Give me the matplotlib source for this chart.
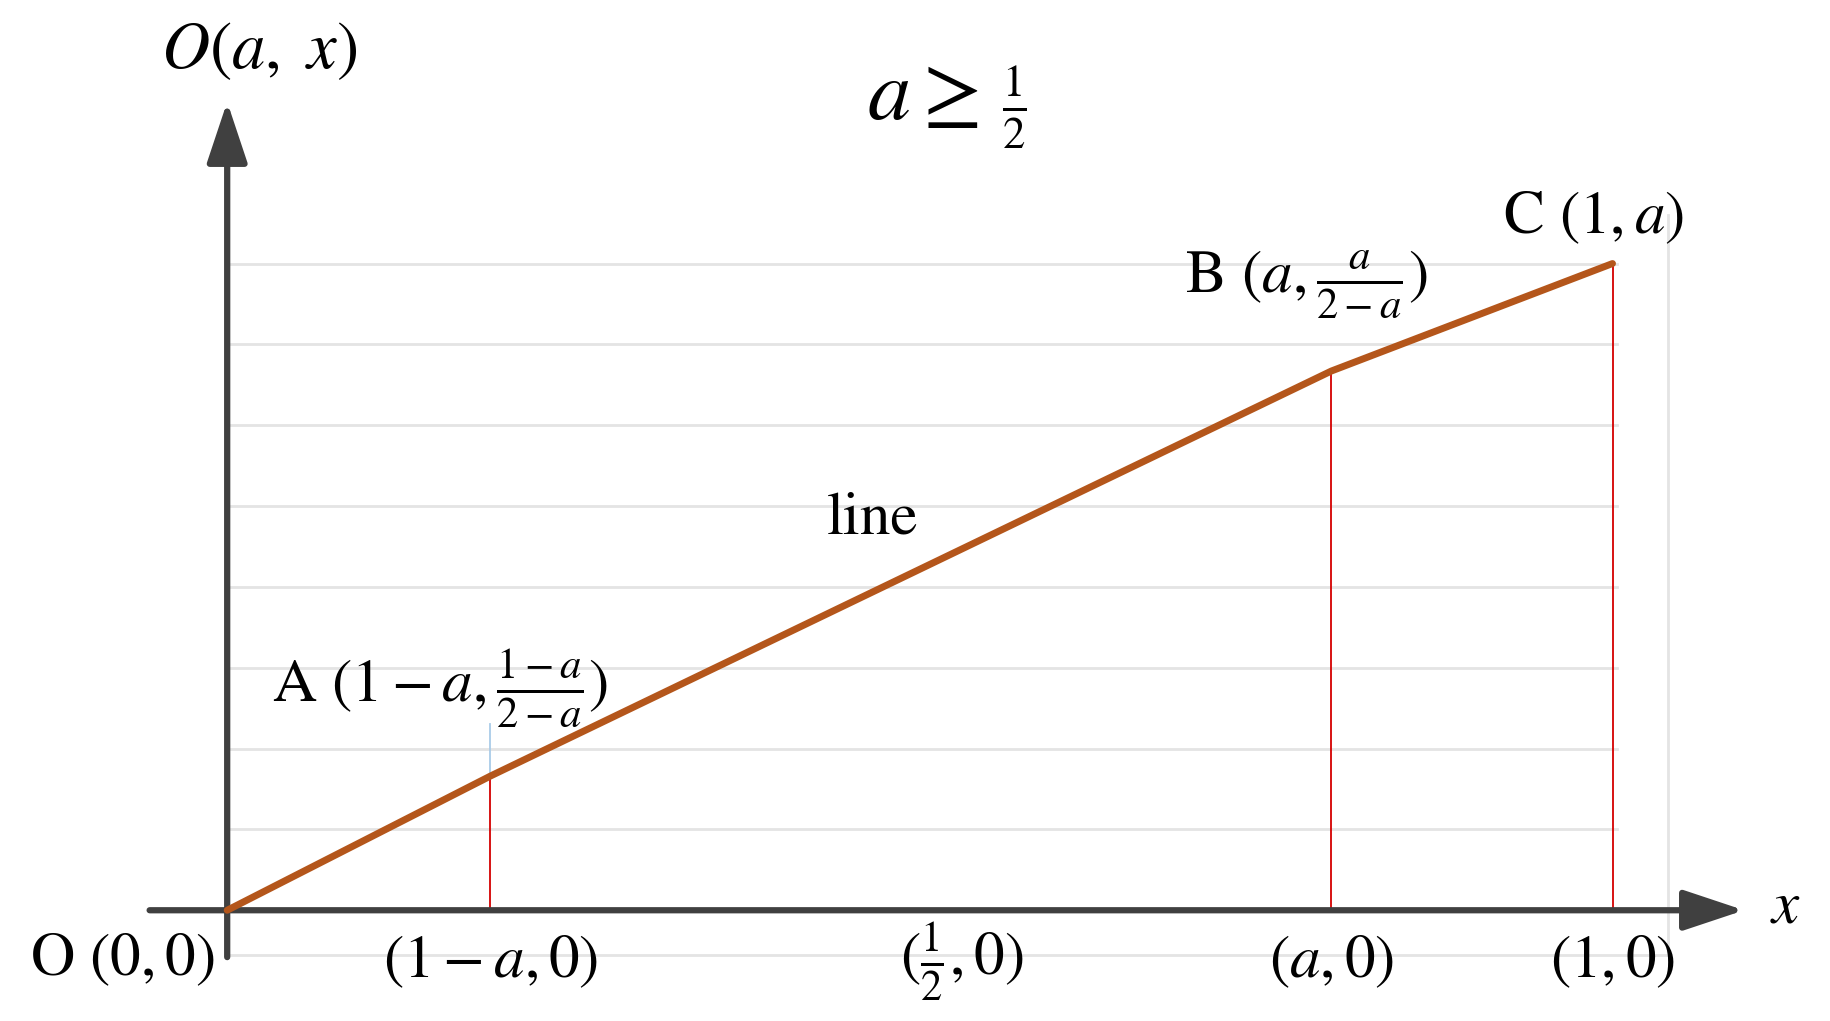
import numpy as np
import matplotlib.pyplot as plt

plt.rcParams['mathtext.fontset'] = 'stix'
plt.rcParams['font.family'] = ['STIXGeneral', 'Liberation Serif', 'DejaVu Serif']

# points of the piecewise line: O, A, B, C  (a ~ 0.8)
pt_names = ['O', 'A', 'B', 'C']
pt_x = [0.0, 0.19, 0.797, 1.0]
pt_y = [0.0, 0.166, 0.667, 0.8]

# horizontal guide lines
grid_y = [0.1, 0.2, 0.3, 0.4, 0.5, 0.6, 0.7, 0.8]
grid_below = -0.055
grid_right = 1.04

# labels
pt_labels = [r'O $(0,0)$', r'A $(1-a,\frac{1-a}{2-a})$',
             r'B $(a,\frac{a}{2-a})$', r'C $(1,a)$']
tick_x = [0.19, 0.53, 0.797, 1.0]
tick_labels = [r'$(1-a,0)$', r'$(\frac{1}{2},0)$', r'$(a,0)$', r'$(1,0)$']

fig = plt.figure(figsize=(18.3, 10.21), dpi=100)
ax = fig.add_axes([0, 0, 1, 1])
ax.set_xlim(-0.164, 1.157)
ax.set_ylim(-0.137, 1.126)
ax.axis('off')

gcol = '#e4e4e4'
for g in grid_y:
    ax.plot([0, 1.003], [g, g], color=gcol, lw=2, zorder=1)
ax.plot([0, grid_right], [grid_below, grid_below], color=gcol, lw=2, zorder=1)
ax.plot([grid_right, grid_right], [grid_below, 0.86], color=gcol, lw=2, zorder=1)

# axes with arrows
acol = '#404040'
ax.annotate('', xy=(1.095, 0), xytext=(-0.056, 0),
            arrowprops=dict(arrowstyle='-|>,head_length=1.5,head_width=0.5',
                            mutation_scale=25, lw=4.5, color=acol,
                            shrinkA=0, shrinkB=0), zorder=3)
ax.annotate('', xy=(0, 1.0), xytext=(0, -0.058),
            arrowprops=dict(arrowstyle='-|>,head_length=1.5,head_width=0.5',
                            mutation_scale=25, lw=4.5, color=acol,
                            shrinkA=0, shrinkB=0), zorder=3)

# red drop lines
for px, py in zip(pt_x[1:], pt_y[1:]):
    ax.plot([px, px], [0, py], color='#d40000', lw=1.3, zorder=2)
ax.plot([pt_x[1], pt_x[1]], [pt_y[1], 0.231], color='#a9cbe8', lw=1.3, zorder=2)

# main line
ax.plot(pt_x, pt_y, color='#b4561b', lw=5, solid_capstyle='round', zorder=4)

fs = 44
ax.text(0.023, 1.061, r'$O(a,\ x)$', fontsize=48, ha='center', va='center')
ax.text(0.502, 1.004, r'$a\geq$', fontsize=62, ha='center', va='center')
ax.text(0.568, 0.993, r'$\frac{1}{2}$', fontsize=46, ha='center', va='center')

lab_pos = [(-0.076, -0.061), (0.154, 0.274), (0.779, 0.773), (0.986, 0.856)]
for (lx, ly), lab in zip(lab_pos, pt_labels):
    ax.text(lx, ly, lab, fontsize=fs, ha='center', va='center')

for tx, tl in zip(tick_x, tick_labels):
    ax.text(tx, -0.064, tl, fontsize=fs, ha='center', va='center')

ax.text(0.466, 0.484, 'line', fontsize=fs, ha='center', va='center')
ax.text(1.125, 0.003, r'$x$', fontsize=fs, ha='center', va='center')

fig.savefig('out.png', dpi=100)
